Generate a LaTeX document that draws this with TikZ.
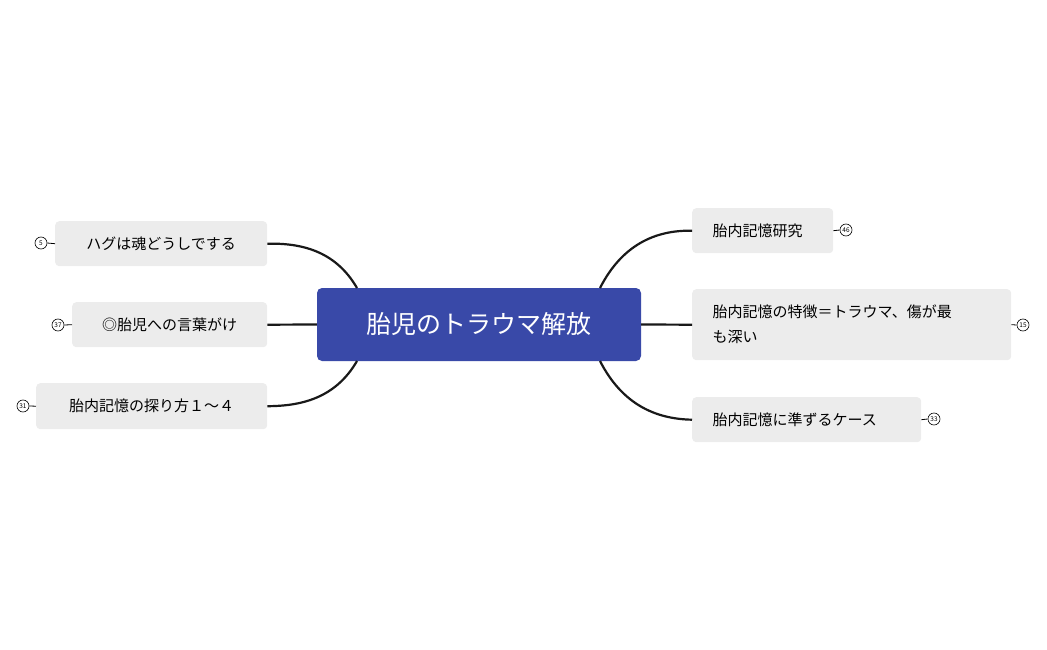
\documentclass[tikz,border=0pt]{standalone}
\usepackage{fontspec}
\setmainfont{Noto Sans CJK JP}
\begin{document}
\begin{tikzpicture}[x=1pt,y=-1pt,
 topic/.style={fill=gray!15,rounded corners=4pt,inner sep=0pt,font=\fontsize{15}{21}\selectfont,align=left,anchor=north west},
 num/.style={circle,draw,line width=0.6pt,inner sep=0pt,minimum size=12pt,font=\fontsize{6.5}{7}\selectfont},
 conn/.style={line width=2.2pt,draw=black!90}]
\useasboundingbox (0,0) rectangle (1047,650);
\node[fill={rgb,255:red,57;green,73;blue,168},rounded corners=5pt,minimum width=324pt,minimum height=73pt,text=white,font=\fontsize{25}{30}\selectfont] (c) at (479,324.5) {胎児のトラウマ解放};
\node[topic,minimum width=212pt,minimum height=45pt] (a) at (55,221) {};
\node[font=\fontsize{15}{21}\selectfont] at (a.center) {ハグは魂どうしでする};
\node[topic,minimum width=195pt,minimum height=45pt] (b) at (72,302) {};
\node[font=\fontsize{15}{21}\selectfont] at (b.center) {◎胎児への言葉がけ};
\node[topic,minimum width=231pt,minimum height=46pt] (cc) at (36,383) {};
\node[font=\fontsize{15}{21}\selectfont] at (cc.center) {胎内記憶の探り方１～４};
\node[topic,minimum width=141pt,minimum height=45pt] (d) at (692,208) {};
\node[font=\fontsize{15}{21}\selectfont,anchor=west] at ([xshift=17pt]d.west) {胎内記憶研究};
\node[topic,minimum width=319pt,minimum height=71pt] (e) at (692,289) {};
\node[font=\fontsize{15}{25}\selectfont,anchor=west,align=left] at ([xshift=17pt]e.west) {胎内記憶の特徴＝トラウマ、傷が最\\も深い};
\node[topic,minimum width=229pt,minimum height=45pt] (f) at (692,397) {};
\node[font=\fontsize{15}{21}\selectfont,anchor=west] at ([xshift=17pt]f.west) {胎内記憶に準ずるケース};
\node[num] (na) at (41,243) {5};
\node[num] (nb) at (58,325) {37};
\node[num] (nc) at (23,406) {31};
\node[num] (nd) at (846,230) {46};
\node[num] (ne) at (1023,325) {15};
\node[num] (nf) at (934,419) {33};
\foreach \n/\t in {na/a,nb/b,nc/cc}{\draw[line width=0.8pt] (\n.east) -- (\t.west);}
\foreach \n/\t in {nd/d,ne/e,nf/f}{\draw[line width=0.8pt] (\n.west) -- (\t.east);}
\coordinate (c1) at (357,288); \coordinate (c3) at (357,361);
\coordinate (c4) at (600,288); \coordinate (c6) at (600,361);
\draw[conn] (c1) .. controls (335,250) and (300,243) .. (a.east);
\draw[conn] (c.west) -- (b.east);
\draw[conn] (c3) .. controls (335,399) and (300,406) .. (cc.east);
\draw[conn] (c4) .. controls (622,245) and (655,230) .. (d.west);
\draw[conn] (c.east) -- (e.west);
\draw[conn] (c6) .. controls (622,404) and (655,419) .. (f.west);
\end{tikzpicture}
\end{document}
